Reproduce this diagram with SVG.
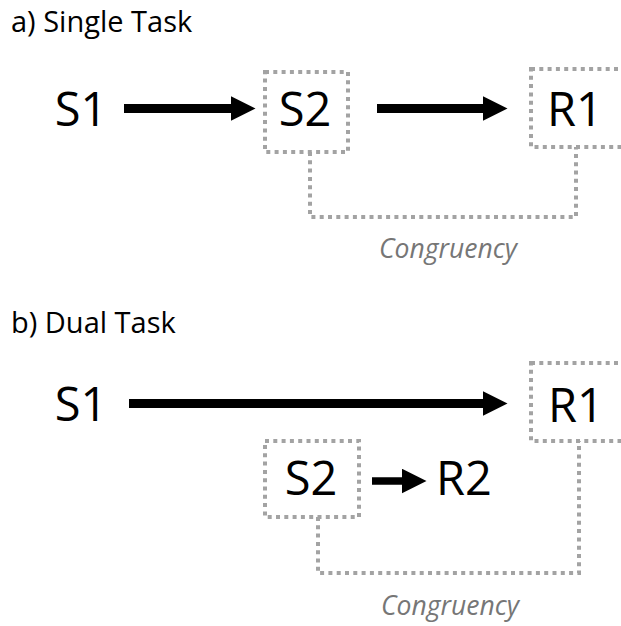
<svg xmlns="http://www.w3.org/2000/svg" width="621" height="626" viewBox="0 0 621 626">
  <style>
    .title { font-family: "Open Sans", "Liberation Sans", sans-serif; font-size: 29px; fill: #000; }
    .lbl { font-family: "Open Sans", "Liberation Sans", sans-serif; font-size: 47px; fill: #000; text-anchor: middle; }
    .cong { font-family: "Open Sans", "Liberation Sans", sans-serif; font-style: italic; font-size: 26.5px; fill: #767676; text-anchor: middle; }
    .box { fill: none; stroke: #a3a3a3; stroke-width: 4; stroke-dasharray: 4 4.3; }
    .link { fill: none; stroke: #a3a3a3; stroke-width: 4; stroke-dasharray: 4 4.3; }
    .arrow { stroke: #000; fill: none; marker-end: url(#head); }
  </style>
  <defs>
    <marker id="head" markerUnits="userSpaceOnUse" viewBox="0 0 25 25" markerWidth="25" markerHeight="25" refX="0.5" refY="12.5" orient="auto">
      <path d="M0,0 L25,12.5 L0,25 Z" fill="#000"/>
    </marker>
  </defs>

  <text class="title" x="11" y="32">a) Single Task</text>
  <text class="title" x="11" y="333">b) Dual Task</text>

  <g id="connectors">
    <line class="arrow" x1="124" y1="108.5" x2="231" y2="108.5" stroke-width="9"/>
    <line class="arrow" x1="377" y1="108.5" x2="483" y2="108.5" stroke-width="9"/>
    <polyline class="link" points="310,152 310,217 576,217 576,147"/>
    <line class="arrow" x1="129" y1="403.5" x2="483" y2="403.5" stroke-width="9"/>
    <line class="arrow" x1="372" y1="481" x2="402" y2="481" stroke-width="7.5"/>
    <polyline class="link" points="318,517 318,573 579,573 579,441"/>
  </g>

  <g id="a-S1"><text class="lbl" x="81" y="126">S1</text></g>
  <g id="a-S2">
    <rect class="box" x="265" y="72" width="83" height="80"/>
    <text class="lbl" x="305" y="126">S2</text>
  </g>
  <g id="a-R1">
    <rect class="box" x="531" y="69" width="110" height="78"/>
    <text class="lbl" x="575" y="126">R1</text>
  </g>
  <g id="a-congruency"><text class="cong" x="448" y="258">Congruency</text></g>

  <g id="b-S1"><text class="lbl" x="81" y="421">S1</text></g>
  <g id="b-R1">
    <rect class="box" x="531" y="363" width="110" height="78"/>
    <text class="lbl" x="576" y="422">R1</text>
  </g>
  <g id="b-S2">
    <rect class="box" x="265" y="441" width="94" height="76"/>
    <text class="lbl" x="311" y="495">S2</text>
  </g>
  <g id="b-R2"><text class="lbl" x="464" y="495">R2</text></g>
  <g id="b-congruency"><text class="cong" x="450" y="615">Congruency</text></g>
</svg>
